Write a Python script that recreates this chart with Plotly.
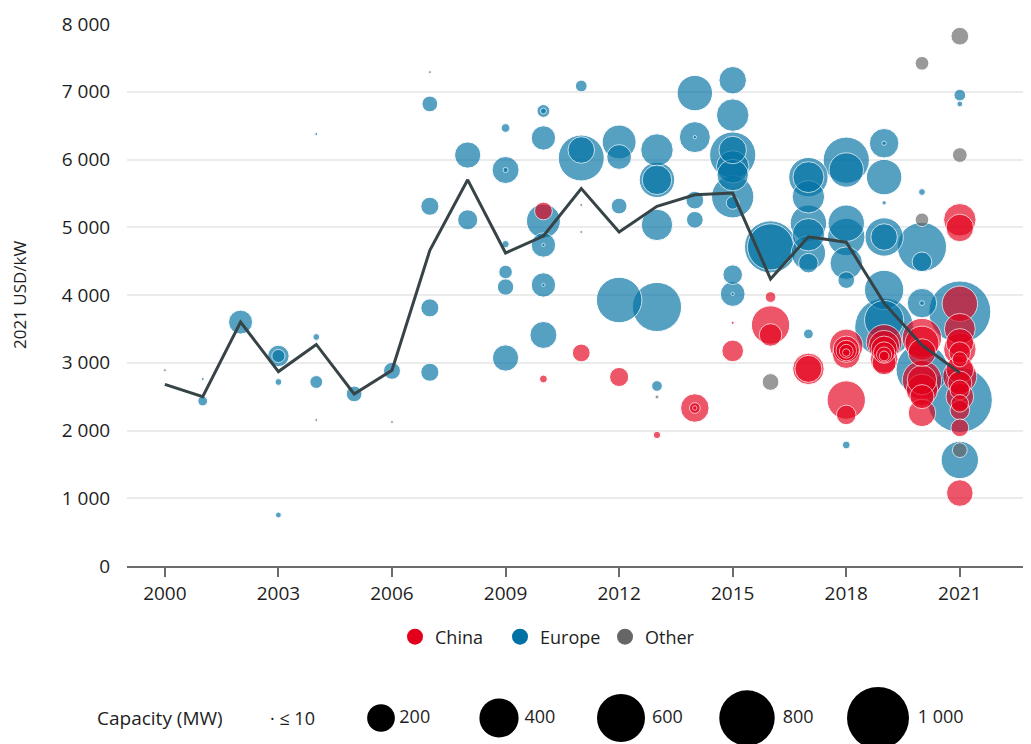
import plotly.graph_objects as go

# ---------------- data ----------------
years = list(range(2000, 2022))
avg_cost = [2680, 2500, 3600, 2870, 3270, 2540, 2890, 4660, 5700, 4620, 4870,
            5570, 4930, 5310, 5480, 5505, 4236, 4860, 4780, 3880, 3260, 2850]

eu_year = [2001, 2001, 2002, 2003, 2003, 2003, 2003, 2004, 2004, 2004, 2005, 2006,
           2007, 2007, 2007, 2007, 2008, 2008,
           2009, 2009, 2009, 2009, 2009, 2009, 2009,
           2010, 2010, 2010, 2010, 2010, 2010, 2010, 2010, 2010,
           2011, 2011, 2011,
           2012, 2012, 2012, 2012,
           2013, 2013, 2013, 2013, 2013, 2013,
           2014, 2014, 2014, 2014, 2014,
           2015, 2015, 2015, 2015, 2015, 2015, 2015, 2015, 2015, 2015, 2015,
           2016, 2016,
           2017, 2017, 2017, 2017, 2017, 2017, 2017, 2017,
           2018, 2018, 2018, 2018, 2018, 2018, 2018,
           2019, 2019, 2019, 2019, 2019, 2019, 2019, 2019, 2019,
           2020, 2020, 2020, 2020, 2020, 2020,
           2021, 2021, 2021, 2021, 2021]
eu_cost = [2435, 2760, 3600, 3100, 3100, 2716, 753, 3380, 2716, 6376, 2540, 2880,
           6820, 5310, 3810, 2860, 6066, 5110,
           6465, 5845, 5845, 4750, 4340, 4118, 3070,
           6716, 6716, 6318, 5092, 4738, 4738, 4148, 4148, 3410,
           7085, 6022, 6140,
           6258, 6037, 5313, 3926,
           6140, 5700, 5700, 5035, 3823, 2657,
           6980, 6330, 6330, 5400, 5110,
           7170, 6655, 6066, 6140, 5890, 5770, 5450, 5360, 4300, 4015, 4015,
           4710, 4710,
           5740, 5740, 5450, 5060, 4890, 4620, 4470, 3425,
           5990, 5845, 5060, 4856, 4470, 4220, 1786,
           6240, 6240, 5740, 5360, 4856, 4856, 4075, 3630, 3520,
           5520, 4710, 4490, 3880, 3880, 2900,
           6950, 6820, 3750, 2450, 1565]
eu_cap = [25, 1, 150, 120, 45, 12, 9, 12, 43, 1, 65, 75,
          65, 85, 85, 85, 180, 105,
          20, 190, 7, 14, 48, 70, 180,
          43, 9, 155, 300, 155, 3, 155, 3, 190,
          36, 550, 184,
          300, 160, 65, 540,
          275, 327, 227, 258, 630, 30,
          327, 250, 3, 82, 73,
          197, 275, 556, 197, 275, 258, 466, 43, 100, 160, 3,
          708, 556,
          403, 250, 275, 345, 275, 308, 100, 25,
          556, 308, 345, 364, 275, 73, 16,
          227, 5, 327, 5, 383, 184, 403, 400, 900,
          12, 630, 100, 227, 6, 700,
          36, 9, 1000, 1100, 364]

cn_year = [2010, 2010, 2011, 2012, 2013, 2014, 2014, 2014, 2015, 2015,
           2016, 2016, 2016, 2017, 2017,
           2018, 2018, 2018, 2018, 2018, 2018, 2018, 2018,
           2019, 2019, 2019, 2019, 2019, 2019, 2019, 2019,
           2020, 2020, 2020, 2020, 2020, 2020, 2020, 2020,
           2021, 2021, 2021, 2021, 2021, 2021, 2021, 2021, 2021, 2021,
           2021, 2021, 2021, 2021, 2021, 2021, 2021]
cn_cost = [5240, 2760, 3145, 2790, 1934, 2332, 2332, 2332, 3175, 3590,
           3970, 3557, 3410, 2910, 2910,
           3250, 3200, 3180, 3170, 3150, 3120, 2450, 2230,
           3300, 3250, 3200, 3150, 3120, 3100, 3050, 3000,
           3365, 3290, 3150, 2745, 2745, 2600, 2500, 2260,
           5110, 4990, 3870, 3500, 3300, 3200, 3150, 3050, 2900, 2800,
           2700, 2600, 2500, 2400, 2300, 2040, 1077]
cn_cap = [82, 16, 82, 95, 14, 212, 30, 5, 122, 2,
          30, 383, 133, 258, 190,
          290, 180, 110, 50, 15, 200, 383, 100,
          330, 250, 180, 120, 60, 25, 200, 150,
          403, 300, 200, 403, 227, 258, 150, 197,
          275, 197, 327, 250, 200, 275, 120, 60, 200, 300,
          150, 100, 200, 80, 100, 82, 184]

ot_year = [2000, 2004, 2006, 2007, 2011, 2011, 2013, 2016, 2020, 2020, 2021, 2021, 2021]
ot_cost = [2890, 2155, 2125, 7290, 5330, 4930, 2495, 2716, 7420, 5110, 7820, 6066, 1710]
ot_cap = [2, 1, 1, 1, 1, 1, 4, 73, 49, 49, 82, 57, 57]

legend_caps = [200, 400, 600, 800, 1000]
legend_cap_labels = ["200", "400", "600", "800", "1 000"]

# ---------------- style ----------------
PAGE_W, PAGE_H = 1031, 744
OFF = 8                                   # page body margin
W, H = PAGE_W - OFF, PAGE_H - OFF
PL, PB, PT = 127, 566, 24                 # plot left, bottom, top (page px)
FONT = "Open Sans"
TXT = "#1e1e1e"
COL = {"China": "#E3001B", "Europe": "#0071A4", "Other": "#666666"}
D_MAX = 62.0
SIZEREF = 2 * 1000 / D_MAX ** 2


def px_x(px):
    return (px - OFF) / W


def px_y(py):
    return (PAGE_H - py) / H


fig = go.Figure()


def add_region(name, xs, ys, caps):
    rows = sorted(zip(xs, ys, caps), key=lambda r: -r[2])
    fig.add_trace(go.Scatter(
        x=[r[0] for r in rows], y=[r[1] for r in rows], mode="markers",
        marker=dict(size=[r[2] for r in rows], sizemode="area", sizeref=SIZEREF,
                    sizemin=1.5, color=COL[name], opacity=0.66,
                    line=dict(color="white", width=1)),
        showlegend=False, hoverinfo="skip"))


add_region("Europe", eu_year, eu_cost, eu_cap)
add_region("China", cn_year, cn_cost, cn_cap)
add_region("Other", ot_year, ot_cost, ot_cap)

fig.add_trace(go.Scatter(x=years, y=avg_cost, mode="lines",
                         line=dict(color="#374447", width=3),
                         showlegend=False, hoverinfo="skip"))

for name in ["China", "Europe", "Other"]:
    fig.add_trace(go.Scatter(x=[None], y=[None], mode="markers", name=name,
                             marker=dict(size=16, color=COL[name], opacity=1)))

# size legend on an auxiliary pixel-scaled axis
legend_x = [381, 499, 621, 747, 878]
fig.add_trace(go.Scatter(
    x=legend_x, y=[PAGE_H - 718] * len(legend_caps), xaxis="x2", yaxis="y2",
    mode="markers+text", text=legend_cap_labels, textposition="middle right",
    textfont=dict(family=FONT, size=18, color=TXT),
    marker=dict(size=legend_caps, sizemode="area", sizeref=SIZEREF, color="black",
                opacity=1, line=dict(width=0)),
    showlegend=False, hoverinfo="skip", cliponaxis=False))

fig.update_layout(
    width=W, height=H, template="none",
    margin=dict(l=0, r=0, t=0, b=0),
    paper_bgcolor="white", plot_bgcolor="white",
    font=dict(family=FONT, size=18, color=TXT),
    separators=". ",
    xaxis=dict(domain=[px_x(PL), 1], range=[1999, 2022.88], anchor="y",
               tickvals=list(range(2000, 2022, 3)), showgrid=False, zeroline=False,
               showline=True, linecolor="#6b6b6b", linewidth=1.5,
               ticks="outside", ticklen=9, tickwidth=1.5, tickcolor="#6b6b6b",
               tickfont=dict(size=19), automargin=False),
    yaxis=dict(domain=[px_y(PB), px_y(PT)], range=[0, 8000], anchor="x",
               tickvals=list(range(0, 8001, 1000)), tickformat=",",
               showgrid=True, gridcolor="#ebebeb", gridwidth=1.5, zeroline=False,
               showline=False, ticks="outside", ticklen=12, tickcolor="rgba(0,0,0,0)",
               tickfont=dict(size=19), automargin=False),
    xaxis2=dict(domain=[0, 1], range=[OFF, PAGE_W], anchor="y2", visible=False),
    yaxis2=dict(domain=[0, px_y(PB)], range=[0, PAGE_H - PB], anchor="x2", visible=False),
    legend=dict(orientation="h", x=px_x(395), xanchor="left", y=px_y(637),
                yanchor="middle", font=dict(size=18, color=TXT), entrywidth=60,
                bgcolor="rgba(0,0,0,0)", itemclick=False),
    annotations=[
        dict(text="2021 USD/kW", x=px_x(19), y=px_y(295), xref="paper", yref="paper",
             xanchor="center", yanchor="middle",
             textangle=-90, showarrow=False, font=dict(size=17, color=TXT)),
        dict(text="Capacity (MW)", x=px_x(95), y=px_y(718), xref="paper",
             yref="paper", xanchor="left", yanchor="middle", showarrow=False,
             font=dict(size=19, color=TXT)),
        dict(text="· ≤ 10", x=px_x(268), y=px_y(718), xref="paper", yref="paper",
             xanchor="left", yanchor="middle", showarrow=False,
             font=dict(size=18, color=TXT)),
    ],
)

fig.write_html("out.html")
